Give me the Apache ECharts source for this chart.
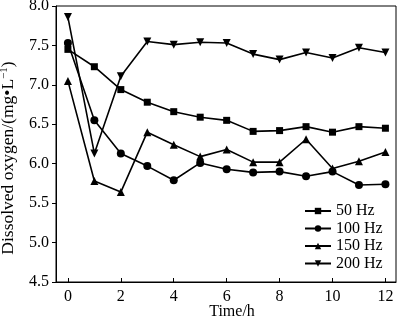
<!DOCTYPE html>
<html>
<head>
<meta charset="utf-8">
<script src="https://cdn.jsdelivr.net/npm/echarts@6/dist/echarts.min.js"></script>
<style>html,body{margin:0;padding:0;background:#fff}#c{width:400px;height:321px}</style>
</head>
<body>
<div id="c"></div>
<script>
const hours = [0,1,2,3,4,5,6,7,8,9,10,11,12];
const seriesNames = ['50 Hz','100 Hz','150 Hz','200 Hz'];
const s50  = [7.45,7.23,6.94,6.78,6.66,6.59,6.55,6.41,6.42,6.47,6.40,6.47,6.45];
const s100 = [7.53,6.55,6.13,5.97,5.79,6.01,5.93,5.89,5.90,5.84,5.90,5.73,5.74];
const s150 = [7.05,5.78,5.64,6.40,6.24,6.09,6.18,6.02,6.02,6.31,5.94,6.03,6.15];
const s200 = [7.86,6.13,7.11,7.55,7.51,7.54,7.53,7.39,7.32,7.41,7.34,7.47,7.41];
const xTicks = [0,2,4,6,8,10,12];
const yTicks = [4.5,5.0,5.5,6.0,6.5,7.0,7.5,8.0];

const font = 'Liberation Serif';
const symbols = ['rect','circle','triangle','triangle'];
const rotates = [0,0,0,180];
const sizes = [7,8,8,8];
const all = [s50,s100,s150,s200];

const chart = echarts.init(document.getElementById('c'), null, {renderer:'canvas'});
chart.setOption({
  animation:false,
  backgroundColor:'#fff',
  grid:{left:56,right:4,top:6,bottom:39,show:true,borderColor:'#000',borderWidth:1,backgroundColor:'transparent',containLabel:false,outerBoundsMode:'none'},
  legend:{
    orient:'vertical', left:304, top:203, padding:0, itemWidth:26, itemHeight:8, itemGap:1.5,
    textStyle:{fontFamily:font,fontSize:16,color:'#000'},
    data:seriesNames
  },
  xAxis:{
    type:'value', min:-0.45, max:12.4,
    name:'Time/h', nameLocation:'middle', nameGap:22, nameMoveOverlap:false,
    nameTextStyle:{fontFamily:font,fontSize:16,color:'#000',padding:[0,0,0,12]},
    axisLine:{onZero:false,lineStyle:{color:'#000',width:1}},
    axisTick:{inside:true,length:4,lineStyle:{color:'#000'},customValues:xTicks},
    axisLabel:{fontFamily:font,fontSize:16,color:'#000',margin:7,customValues:xTicks},
    splitLine:{show:false}
  },
  yAxis:{
    type:'value', min:4.5, max:8.0, interval:0.5,
    name:'{a|Dissolved oxygen/(mg•L}{s|−1}{a|)}', nameLocation:'middle', nameGap:38, nameMoveOverlap:false,
    nameTextStyle:{fontFamily:font,fontSize:17,color:'#000',padding:[0,28,0,0],
      rich:{a:{fontFamily:font,fontSize:17.5,color:'#000'},s:{fontFamily:font,fontSize:11,color:'#000',verticalAlign:'top',padding:[0,0,8,0]}}},
    axisLine:{onZero:false,lineStyle:{color:'#000',width:1}},
    axisTick:{inside:false,length:4,lineStyle:{color:'#000'}},
    axisLabel:{fontFamily:font,fontSize:16,color:'#000',margin:7,formatter:v=>v.toFixed(1)},
    splitLine:{show:false}
  },
  series: seriesNames.map((n,i)=>({
    name:n, type:'line',
    data: hours.map((h,j)=>[h, all[i][j]]),
    symbol:symbols[i], symbolRotate:rotates[i], symbolSize:sizes[i],
    lineStyle:{color:'#000',width:1.6},
    itemStyle:{color:'#000'},
    showAllSymbol:true
  }))
});
</script>
</body>
</html>
